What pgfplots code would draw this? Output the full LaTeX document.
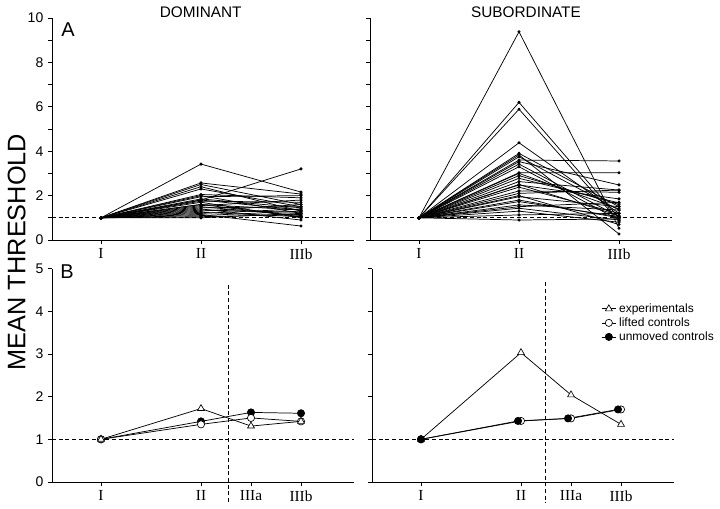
\documentclass[border=0pt]{standalone}
\usepackage{fontspec}
\setmainfont{Liberation Sans}
\newfontfamily\rmn{Liberation Serif}
\usepackage{pgfplots}
\pgfplotsset{compat=1.18}
\newcommand\sline[2]{\addplot[ind] coordinates {(0,1) (1,#1) (2,#2)};}
\begin{document}
\begin{tikzpicture}
\pgfplotsset{
 panel/.style={
  scale only axis, width=226.5pt, xmin=-0.49, xmax=2.53,
  axis lines=left, axis line style={-, line width=0.7pt},
  tick align=outside, major tick length=3pt, minor tick length=3pt,
  tick style={line width=0.6pt, black},
  /pgf/number format/assume math mode=true,
  yticklabel style={font=\fontsize{10.5}{12}\selectfont},
  xticklabel style={font=\rmn\fontsize{11.5}{13}\selectfont},
  clip=false, anchor=south west,
 },
 top/.style={panel, height=166.5pt, ymin=0, ymax=10, ytick={0,2,...,10}, minor ytick={1,3,...,9}, xtick={0,1,2}, xticklabels={I,II,IIIb}},
 bot/.style={panel, height=160.1pt, ymin=0, ymax=5, ytick={0,...,5}, xtick={0,1,1.5,2}, xticklabels={I,II,IIIa,IIIb}},
 ind/.style={black, mark=*, mark size=0.9pt, line width=0.55pt},
 refl/.style={black, dash pattern=on 3pt off 2pt, line width=0.5pt, mark=none, forget plot},
 exp/.style={black, line width=0.55pt, mark=triangle*, mark options={fill=white, line width=0.5pt}, mark size=3pt},
 lift/.style={black, line width=0.55pt, mark=*, mark options={fill=white, line width=0.5pt}, mark size=2.7pt},
 unm/.style={black, line width=0.55pt, mark=*, mark options={fill=black}, mark size=2.7pt},
}
\path[use as bounding box] (0,0) rectangle (540pt,381pt);

% ---------- A: dominant ----------
\begin{axis}[top, at={(39pt,201pt)}]
\addplot[refl] coordinates {(-0.49,1) (2.53,1)};
\sline{3.42}{2.16}
\sline{2.57}{2.07}
\sline{2.50}{1.60}
\sline{2.40}{1.30}
\sline{2.30}{1.50}
\sline{1.80}{3.20}
\sline{2.05}{1.90}
\sline{2.00}{1.20}
\sline{1.85}{1.45}
\sline{1.75}{1.70}
\sline{1.70}{1.00}
\sline{1.60}{1.35}
\sline{1.55}{1.80}
\sline{1.50}{1.10}
\sline{1.45}{1.50}
\sline{1.40}{0.90}
\sline{1.35}{1.25}
\sline{1.30}{1.60}
\sline{1.25}{1.05}
\sline{1.20}{1.40}
\sline{1.15}{0.63}
\sline{1.10}{1.30}
\sline{1.05}{1.15}
\sline{1.00}{1.20}
\sline{1.60}{1.05}
\sline{1.80}{1.35}
\sline{1.95}{2.00}
\end{axis}

% ---------- A: subordinate ----------
\begin{axis}[top, at={(277.5pt,201pt)}, yticklabels={}]
\addplot[refl] coordinates {(-0.49,1) (2.53,1)};
\sline{9.38}{0.53}
\sline{6.20}{1.00}
\sline{5.89}{0.85}
\sline{4.38}{1.20}
\sline{3.90}{1.50}
\sline{3.83}{0.27}
\sline{3.75}{1.35}
\sline{3.60}{3.56}
\sline{3.53}{2.48}
\sline{3.42}{1.05}
\sline{3.30}{0.90}
\sline{3.03}{3.03}
\sline{2.78}{1.67}
\sline{2.63}{2.25}
\sline{2.48}{1.85}
\sline{2.38}{1.20}
\sline{2.21}{2.15}
\sline{2.10}{2.25}
\sline{1.95}{1.50}
\sline{1.73}{1.05}
\sline{1.58}{1.35}
\sline{1.43}{0.90}
\sline{1.13}{1.20}
\sline{0.90}{0.95}
\sline{2.00}{0.70}
\sline{1.80}{1.00}
\sline{2.50}{1.10}
\sline{3.00}{1.40}
\sline{1.30}{0.80}
\sline{2.90}{1.60}
\sline{1.50}{1.70}
\end{axis}

% ---------- B: dominant ----------
\begin{axis}[bot, at={(39pt,19.5pt)}]
\addplot[refl] coordinates {(-0.49,1) (2.53,1)};
\addplot[refl] coordinates {(1.27,4.62) (1.27,-0.5)};
\addplot[unm] coordinates {(0,1) (1,1.42) (1.5,1.63) (2,1.61)};
\addplot[lift] coordinates {(0,1) (1,1.35) (1.5,1.50) (2,1.42)};
\addplot[exp] coordinates {(0,1) (1,1.72) (1.5,1.31) (2,1.42)};
\end{axis}

% ---------- B: subordinate ----------
\begin{axis}[bot, at={(279pt,19.5pt)}, yticklabels={},
  legend style={at={(axis cs:1.80,4.25)}, anchor=north west, draw=none, fill=none,
    inner sep=0pt, row sep=-1.5pt, font=\fontsize{9}{10}\selectfont},
  legend cell align=left,
  legend image code/.code={\draw[mark repeat=2,mark phase=2] plot coordinates {(0cm,0cm) (0.19cm,0cm) (0.38cm,0cm)};}]
\addplot[refl] coordinates {(-0.49,1) (2.53,1)};
\addplot[refl] coordinates {(1.24,4.68) (1.24,-0.5)};
\addplot[exp] coordinates {(0,1) (1,3.03) (1.5,2.04) (2,1.35)};
\addlegendentry{experimentals}
\addplot[lift] coordinates {(0,1) (1,1.43) (1.5,1.49) (2,1.70)};
\addlegendentry{lifted controls}
\addplot[unm] coordinates {(0,1) (0.97,1.43) (1.47,1.49) (1.97,1.70)};
\addlegendentry{unmoved controls}
\end{axis}

% ---------- annotations ----------
\node[font=\fontsize{11.5}{13}\selectfont] at (150.5pt,372pt) {DOMINANT};
\node[font=\fontsize{11.5}{13}\selectfont] at (394.5pt,372pt) {SUBORDINATE};
\node[font=\fontsize{19}{22}\selectfont, rotate=90] at (12.5pt,192pt) {MEAN THRESHOLD};
\node[font=\fontsize{15}{17}\selectfont] at (51pt,359pt) {A};
\node[font=\fontsize{15}{17}\selectfont] at (50.25pt,177.5pt) {B};
\end{tikzpicture}
\end{document}
